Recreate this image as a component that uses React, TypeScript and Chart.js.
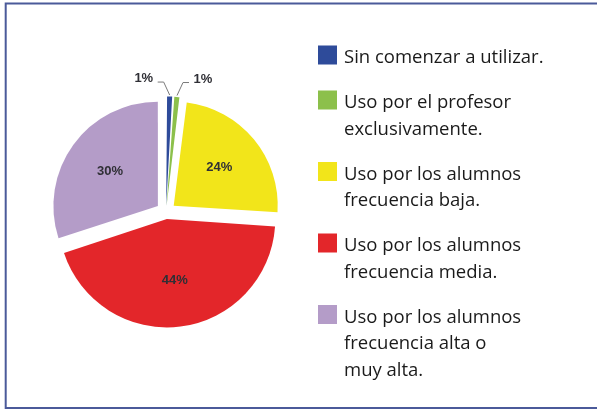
import React, { useEffect, useRef } from "react";
import { Chart, registerables } from "chart.js";

Chart.register(...registerables);

const categories = [
  "Sin comenzar a utilizar.",
  "Uso por el profesor\nexclusivamente.",
  "Uso por los alumnos\nfrecuencia baja.",
  "Uso por los alumnos\nfrecuencia media.",
  "Uso por los alumnos\nfrecuencia alta o\nmuy alta.",
];
const values = [1, 1, 24, 44, 30];
const percentLabels = ["1%", "1%", "24%", "44%", "30%"];
const sliceColors = ["#2E4B9A", "#8CC04B", "#F2E51A", "#E3262A", "#B49CC8"];
// style: explode distance per slice (Chart.js v4 translates by offset / 4)
const sliceOffsets = [24, 24, 40, 28, 40];

const LABEL_SHIFT = 10;

const customPlugin = {
  id: "customDraw",
  beforeDraw(chart: any) {
    const ctx = chart.ctx;
    ctx.save();
    ctx.fillStyle = "#ffffff";
    ctx.fillRect(0, 0, chart.width, chart.height);
    ctx.strokeStyle = "#4B5A9A";
    ctx.lineWidth = 2;
    ctx.beginPath();
    ctx.moveTo(chart.width + 5, 3.5);
    ctx.lineTo(5.7, 3.5);
    ctx.lineTo(5.7, 408);
    ctx.lineTo(chart.width + 5, 408);
    ctx.stroke();
    ctx.restore();
  },
  afterDatasetsDraw(chart: any) {
    const ctx = chart.ctx;
    const meta = chart.getDatasetMeta(0);
    ctx.save();
    ctx.font = 'bold 13px "Liberation Sans", Arial, sans-serif';
    ctx.fillStyle = "#2f2f35";
    let smallIdx = 0;
    meta.data.forEach((arc: any, i: number) => {
      const { x, y, startAngle, endAngle, outerRadius } = arc.getProps(
        ["x", "y", "startAngle", "endAngle", "outerRadius"],
        true
      );
      const mid = (startAngle + endAngle) / 2;
      const c = Math.cos(mid);
      const s = Math.sin(mid);
      if (values[i] >= 5) {
        const d = LABEL_SHIFT + outerRadius * 0.57;
        ctx.textAlign = "center";
        ctx.textBaseline = "middle";
        ctx.fillText(percentLabels[i], x + c * d, y + s * d);
      } else {
        const side = smallIdx === 0 ? -1 : 1;
        smallIdx++;
        const r0 = LABEL_SHIFT + outerRadius + 3;
        const p0x = x + c * r0;
        const p0y = y + s * r0;
        const ex = p0x + side * 6;
        const ey = p0y - 13;
        const hx = ex + side * 6;
        ctx.strokeStyle = "#7a7a7a";
        ctx.lineWidth = 1;
        ctx.beginPath();
        ctx.moveTo(p0x, p0y);
        ctx.lineTo(ex, ey);
        ctx.lineTo(hx, ey);
        ctx.stroke();
        ctx.textAlign = side < 0 ? "right" : "left";
        ctx.textBaseline = "alphabetic";
        ctx.fillText(percentLabels[i], hx + side * 4.5, ey);
      }
    });
    ctx.restore();
  },
  afterDraw(chart: any) {
    const ctx = chart.ctx;
    ctx.save();
    const boxX = 318;
    const textX = 344;
    const lineH = 26.5;
    const gap = 45;
    let baseline = 63;
    ctx.font = '18.5px "Open Sans", sans-serif';
    ctx.textAlign = "left";
    ctx.textBaseline = "alphabetic";
    categories.forEach((cat, i) => {
      const lines = cat.split("\n");
      ctx.fillStyle = sliceColors[i];
      ctx.fillRect(boxX, baseline - 17.5, 19, 19);
      ctx.fillStyle = "#1a1a1a";
      lines.forEach((ln, j) => {
        ctx.fillText(ln, textX, baseline + j * lineH);
      });
      baseline += (lines.length - 1) * lineH + gap;
    });
    ctx.restore();
  },
};

export default function App() {
  const canvasRef = useRef<HTMLCanvasElement | null>(null);

  useEffect(() => {
    const canvas = canvasRef.current;
    if (!canvas) return;
    const chart = new Chart(canvas, {
      type: "pie",
      data: {
        labels: categories,
        datasets: [
          {
            data: values,
            backgroundColor: sliceColors,
            borderWidth: 0,
            offset: sliceOffsets,
          },
        ],
      },
      options: {
        responsive: false,
        animation: false,
        devicePixelRatio: 1,
        layout: { padding: { left: 42, top: 88, right: 307, bottom: 73 } },
        plugins: {
          legend: { display: false },
          tooltip: { enabled: false },
          title: { display: false },
        },
      },
      plugins: [customPlugin],
    });
    return () => chart.destroy();
  }, []);

  return (
    <div style={{ position: "fixed", left: 0, top: 0, width: 597, height: 409, background: "#fff" }}>
      <canvas ref={canvasRef} width={597} height={409} style={{ width: 597, height: 409, display: "block" }} />
    </div>
  );
}
